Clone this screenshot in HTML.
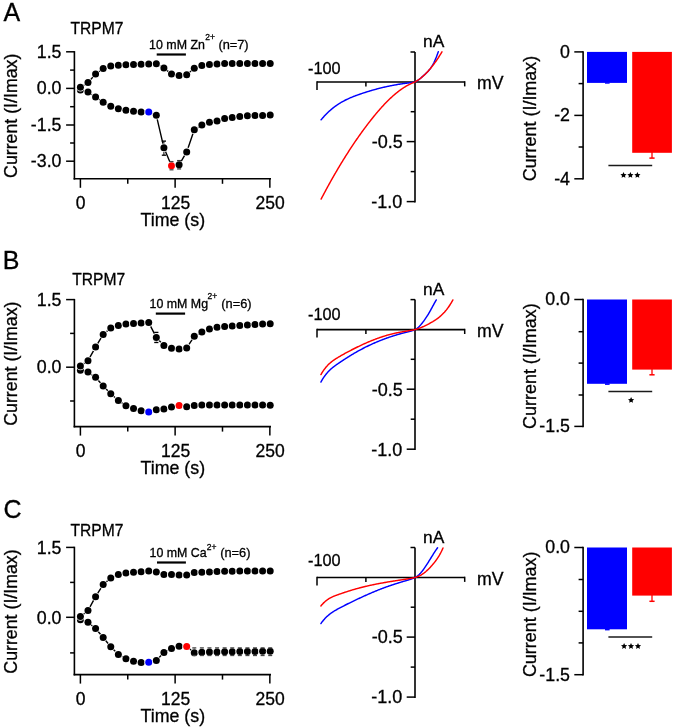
<!DOCTYPE html>
<html><head><meta charset="utf-8"><style>
html,body{margin:0;padding:0;background:#fff;}
svg{display:block;will-change:transform;}
text{font-family:"Liberation Sans",sans-serif;fill:#000;stroke:#000;stroke-width:0.3px;}
</style></head><body>
<svg width="675" height="728" viewBox="0 0 675 728">
<rect width="675" height="728" fill="#fff"/>
<text x="3.60" y="21.30" font-size="25" text-anchor="start">A</text>
<line x1="74.40" y1="51.10" x2="74.40" y2="179.60" stroke="#000" stroke-width="1.6"/>
<line x1="73.60" y1="178.80" x2="271.00" y2="178.80" stroke="#000" stroke-width="1.6"/>
<line x1="66.10" y1="51.80" x2="74.40" y2="51.80" stroke="#000" stroke-width="1.5"/>
<text x="61.50" y="57.80" font-size="17.8" text-anchor="end">1.5</text>
<line x1="70.10" y1="70.10" x2="74.40" y2="70.10" stroke="#000" stroke-width="1.5"/>
<line x1="66.10" y1="88.40" x2="74.40" y2="88.40" stroke="#000" stroke-width="1.5"/>
<text x="61.50" y="94.40" font-size="17.8" text-anchor="end">0.0</text>
<line x1="70.10" y1="106.70" x2="74.40" y2="106.70" stroke="#000" stroke-width="1.5"/>
<line x1="66.10" y1="125.00" x2="74.40" y2="125.00" stroke="#000" stroke-width="1.5"/>
<text x="61.50" y="131.00" font-size="17.8" text-anchor="end">-1.5</text>
<line x1="70.10" y1="143.00" x2="74.40" y2="143.00" stroke="#000" stroke-width="1.5"/>
<line x1="66.10" y1="161.20" x2="74.40" y2="161.20" stroke="#000" stroke-width="1.5"/>
<text x="61.50" y="167.20" font-size="17.8" text-anchor="end">-3.0</text>
<line x1="80.40" y1="178.80" x2="80.40" y2="187.80" stroke="#000" stroke-width="1.5"/>
<line x1="127.76" y1="178.80" x2="127.76" y2="183.80" stroke="#000" stroke-width="1.5"/>
<line x1="175.12" y1="178.80" x2="175.12" y2="187.80" stroke="#000" stroke-width="1.5"/>
<line x1="222.49" y1="178.80" x2="222.49" y2="183.80" stroke="#000" stroke-width="1.5"/>
<line x1="269.85" y1="178.80" x2="269.85" y2="187.80" stroke="#000" stroke-width="1.5"/>
<text x="80.50" y="209.10" font-size="17.5" text-anchor="middle">0</text>
<text x="175.70" y="209.10" font-size="17.5" text-anchor="middle">125</text>
<text x="270.10" y="209.10" font-size="17.5" text-anchor="middle">250</text>
<text x="172.80" y="226.00" font-size="17.8" text-anchor="middle">Time (s)</text>
<text transform="translate(16.60,115.80) rotate(-90)" font-size="17.75" text-anchor="middle">Current (I/Imax)</text>
<text transform="translate(70.40,34.00) scale(0.93,1)" font-size="16.8" text-anchor="start">TRPM7</text>
<text x="149.10" y="48.60" font-size="12.4" text-anchor="start">10 mM Zn</text>
<text x="205.30" y="40.10" font-size="8.5" text-anchor="start">2+</text>
<text x="218.40" y="48.60" font-size="12.8" text-anchor="start">(n=7)</text>
<line x1="156.70" y1="54.50" x2="185.90" y2="54.50" stroke="#000" stroke-width="2.2"/>
<polyline points="80.40,90.00 87.99,92.00 95.58,96.90 103.18,102.30 110.77,106.20 118.36,108.80 125.95,110.30 133.54,111.30 141.14,112.00 148.73,112.00 156.32,115.30 163.91,147.80 171.50,165.80 179.10,164.80 186.69,151.90 194.28,129.80 201.87,125.10 209.46,122.20 217.06,120.90 224.65,118.60 232.24,117.40 239.83,116.50 247.42,115.70 255.02,115.50 262.61,115.40 270.20,115.00" fill="none" stroke="#000" stroke-width="1.4" stroke-linejoin="round"/>
<line x1="163.91" y1="141.10" x2="163.91" y2="155.20" stroke="#000" stroke-width="1.0"/>
<line x1="171.50" y1="161.60" x2="171.50" y2="169.80" stroke="#444" stroke-width="1.0"/>
<line x1="179.10" y1="160.60" x2="179.10" y2="168.90" stroke="#333" stroke-width="1.0"/>
<circle cx="80.40" cy="90.00" r="4.30" fill="#fff"/>
<circle cx="80.40" cy="90.00" r="3.5" fill="#000"/>
<circle cx="87.99" cy="92.00" r="4.30" fill="#fff"/>
<circle cx="87.99" cy="92.00" r="3.5" fill="#000"/>
<circle cx="95.58" cy="96.90" r="4.30" fill="#fff"/>
<circle cx="95.58" cy="96.90" r="3.5" fill="#000"/>
<circle cx="103.18" cy="102.30" r="4.30" fill="#fff"/>
<circle cx="103.18" cy="102.30" r="3.5" fill="#000"/>
<circle cx="110.77" cy="106.20" r="4.30" fill="#fff"/>
<circle cx="110.77" cy="106.20" r="3.5" fill="#000"/>
<circle cx="118.36" cy="108.80" r="4.30" fill="#fff"/>
<circle cx="118.36" cy="108.80" r="3.5" fill="#000"/>
<circle cx="125.95" cy="110.30" r="4.30" fill="#fff"/>
<circle cx="125.95" cy="110.30" r="3.5" fill="#000"/>
<circle cx="133.54" cy="111.30" r="4.30" fill="#fff"/>
<circle cx="133.54" cy="111.30" r="3.5" fill="#000"/>
<circle cx="141.14" cy="112.00" r="4.30" fill="#fff"/>
<circle cx="141.14" cy="112.00" r="3.5" fill="#000"/>
<circle cx="148.73" cy="112.00" r="4.30" fill="#fff"/>
<circle cx="148.73" cy="112.00" r="3.5" fill="#0000ff"/>
<circle cx="156.32" cy="115.30" r="4.30" fill="#fff"/>
<circle cx="156.32" cy="115.30" r="3.5" fill="#000"/>
<circle cx="163.91" cy="147.80" r="4.30" fill="#fff"/>
<circle cx="163.91" cy="147.80" r="3.5" fill="#000"/>
<circle cx="171.50" cy="165.80" r="4.30" fill="#fff"/>
<circle cx="171.50" cy="165.80" r="3.5" fill="#ff0000"/>
<circle cx="179.10" cy="164.80" r="4.30" fill="#fff"/>
<circle cx="179.10" cy="164.80" r="3.5" fill="#000"/>
<circle cx="186.69" cy="151.90" r="4.30" fill="#fff"/>
<circle cx="186.69" cy="151.90" r="3.5" fill="#000"/>
<circle cx="194.28" cy="129.80" r="4.30" fill="#fff"/>
<circle cx="194.28" cy="129.80" r="3.5" fill="#000"/>
<circle cx="201.87" cy="125.10" r="4.30" fill="#fff"/>
<circle cx="201.87" cy="125.10" r="3.5" fill="#000"/>
<circle cx="209.46" cy="122.20" r="4.30" fill="#fff"/>
<circle cx="209.46" cy="122.20" r="3.5" fill="#000"/>
<circle cx="217.06" cy="120.90" r="4.30" fill="#fff"/>
<circle cx="217.06" cy="120.90" r="3.5" fill="#000"/>
<circle cx="224.65" cy="118.60" r="4.30" fill="#fff"/>
<circle cx="224.65" cy="118.60" r="3.5" fill="#000"/>
<circle cx="232.24" cy="117.40" r="4.30" fill="#fff"/>
<circle cx="232.24" cy="117.40" r="3.5" fill="#000"/>
<circle cx="239.83" cy="116.50" r="4.30" fill="#fff"/>
<circle cx="239.83" cy="116.50" r="3.5" fill="#000"/>
<circle cx="247.42" cy="115.70" r="4.30" fill="#fff"/>
<circle cx="247.42" cy="115.70" r="3.5" fill="#000"/>
<circle cx="255.02" cy="115.50" r="4.30" fill="#fff"/>
<circle cx="255.02" cy="115.50" r="3.5" fill="#000"/>
<circle cx="262.61" cy="115.40" r="4.30" fill="#fff"/>
<circle cx="262.61" cy="115.40" r="3.5" fill="#000"/>
<circle cx="270.20" cy="115.00" r="4.30" fill="#fff"/>
<circle cx="270.20" cy="115.00" r="3.5" fill="#000"/>
<line x1="161.81" y1="141.10" x2="166.01" y2="141.10" stroke="#000" stroke-width="1.3"/>
<line x1="161.81" y1="155.20" x2="166.01" y2="155.20" stroke="#000" stroke-width="1.3"/>
<line x1="169.50" y1="161.60" x2="173.50" y2="161.60" stroke="#444" stroke-width="1.3"/>
<line x1="169.50" y1="169.80" x2="173.50" y2="169.80" stroke="#444" stroke-width="1.3"/>
<line x1="177.10" y1="160.60" x2="181.10" y2="160.60" stroke="#333" stroke-width="1.3"/>
<line x1="177.10" y1="168.90" x2="181.10" y2="168.90" stroke="#333" stroke-width="1.3"/>
<polyline points="80.40,87.20 87.99,82.60 95.58,74.00 103.18,68.50 110.77,65.90 118.36,65.30 125.95,64.80 133.54,64.40 141.14,64.20 148.73,64.10 156.32,63.70 163.91,67.90 171.50,74.10 179.10,75.40 186.69,74.70 194.28,68.30 201.87,65.40 209.46,64.40 217.06,63.90 224.65,63.50 232.24,63.50 239.83,63.50 247.42,63.50 255.02,63.50 262.61,63.50 270.20,63.50" fill="none" stroke="#000" stroke-width="1.4" stroke-linejoin="round"/>
<circle cx="80.40" cy="87.20" r="4.30" fill="#fff"/>
<circle cx="80.40" cy="87.20" r="3.5" fill="#000"/>
<circle cx="87.99" cy="82.60" r="4.30" fill="#fff"/>
<circle cx="87.99" cy="82.60" r="3.5" fill="#000"/>
<circle cx="95.58" cy="74.00" r="4.30" fill="#fff"/>
<circle cx="95.58" cy="74.00" r="3.5" fill="#000"/>
<circle cx="103.18" cy="68.50" r="4.30" fill="#fff"/>
<circle cx="103.18" cy="68.50" r="3.5" fill="#000"/>
<circle cx="110.77" cy="65.90" r="4.30" fill="#fff"/>
<circle cx="110.77" cy="65.90" r="3.5" fill="#000"/>
<circle cx="118.36" cy="65.30" r="4.30" fill="#fff"/>
<circle cx="118.36" cy="65.30" r="3.5" fill="#000"/>
<circle cx="125.95" cy="64.80" r="4.30" fill="#fff"/>
<circle cx="125.95" cy="64.80" r="3.5" fill="#000"/>
<circle cx="133.54" cy="64.40" r="4.30" fill="#fff"/>
<circle cx="133.54" cy="64.40" r="3.5" fill="#000"/>
<circle cx="141.14" cy="64.20" r="4.30" fill="#fff"/>
<circle cx="141.14" cy="64.20" r="3.5" fill="#000"/>
<circle cx="148.73" cy="64.10" r="4.30" fill="#fff"/>
<circle cx="148.73" cy="64.10" r="3.5" fill="#000"/>
<circle cx="156.32" cy="63.70" r="4.30" fill="#fff"/>
<circle cx="156.32" cy="63.70" r="3.5" fill="#000"/>
<circle cx="163.91" cy="67.90" r="4.30" fill="#fff"/>
<circle cx="163.91" cy="67.90" r="3.5" fill="#000"/>
<circle cx="171.50" cy="74.10" r="4.30" fill="#fff"/>
<circle cx="171.50" cy="74.10" r="3.5" fill="#000"/>
<circle cx="179.10" cy="75.40" r="4.30" fill="#fff"/>
<circle cx="179.10" cy="75.40" r="3.5" fill="#000"/>
<circle cx="186.69" cy="74.70" r="4.30" fill="#fff"/>
<circle cx="186.69" cy="74.70" r="3.5" fill="#000"/>
<circle cx="194.28" cy="68.30" r="4.30" fill="#fff"/>
<circle cx="194.28" cy="68.30" r="3.5" fill="#000"/>
<circle cx="201.87" cy="65.40" r="4.30" fill="#fff"/>
<circle cx="201.87" cy="65.40" r="3.5" fill="#000"/>
<circle cx="209.46" cy="64.40" r="4.30" fill="#fff"/>
<circle cx="209.46" cy="64.40" r="3.5" fill="#000"/>
<circle cx="217.06" cy="63.90" r="4.30" fill="#fff"/>
<circle cx="217.06" cy="63.90" r="3.5" fill="#000"/>
<circle cx="224.65" cy="63.50" r="4.30" fill="#fff"/>
<circle cx="224.65" cy="63.50" r="3.5" fill="#000"/>
<circle cx="232.24" cy="63.50" r="4.30" fill="#fff"/>
<circle cx="232.24" cy="63.50" r="3.5" fill="#000"/>
<circle cx="239.83" cy="63.50" r="4.30" fill="#fff"/>
<circle cx="239.83" cy="63.50" r="3.5" fill="#000"/>
<circle cx="247.42" cy="63.50" r="4.30" fill="#fff"/>
<circle cx="247.42" cy="63.50" r="3.5" fill="#000"/>
<circle cx="255.02" cy="63.50" r="4.30" fill="#fff"/>
<circle cx="255.02" cy="63.50" r="3.5" fill="#000"/>
<circle cx="262.61" cy="63.50" r="4.30" fill="#fff"/>
<circle cx="262.61" cy="63.50" r="3.5" fill="#000"/>
<circle cx="270.20" cy="63.50" r="4.30" fill="#fff"/>
<circle cx="270.20" cy="63.50" r="3.5" fill="#000"/>
<line x1="317.00" y1="82.00" x2="464.70" y2="82.00" stroke="#000" stroke-width="1.6"/>
<line x1="317.00" y1="81.20" x2="317.00" y2="90.00" stroke="#000" stroke-width="1.5"/>
<line x1="365.90" y1="82.00" x2="365.90" y2="86.40" stroke="#000" stroke-width="1.5"/>
<line x1="464.70" y1="81.20" x2="464.70" y2="86.40" stroke="#000" stroke-width="1.5"/>
<line x1="415.00" y1="52.00" x2="415.00" y2="202.40" stroke="#000" stroke-width="1.6"/>
<line x1="410.50" y1="52.00" x2="415.00" y2="52.00" stroke="#000" stroke-width="1.5"/>
<line x1="410.70" y1="111.70" x2="415.00" y2="111.70" stroke="#000" stroke-width="1.5"/>
<line x1="406.70" y1="141.60" x2="415.00" y2="141.60" stroke="#000" stroke-width="1.5"/>
<line x1="410.70" y1="171.60" x2="415.00" y2="171.60" stroke="#000" stroke-width="1.5"/>
<line x1="406.70" y1="201.60" x2="415.00" y2="201.60" stroke="#000" stroke-width="1.5"/>
<text x="308.00" y="74.10" font-size="16.3" text-anchor="start">-100</text>
<text x="423.00" y="47.10" font-size="17.4" text-anchor="start">nA</text>
<text x="477.00" y="89.10" font-size="17.7" text-anchor="start">mV</text>
<text x="402.70" y="147.90" font-size="18" text-anchor="end">-0.5</text>
<text x="402.40" y="207.90" font-size="18" text-anchor="end">-1.0</text>
<path d="M321.10,119.82 L321.60,119.22 L322.10,118.63 L322.60,118.05 L323.10,117.48 L323.60,116.91 L324.10,116.36 L324.60,115.82 L325.10,115.29 L325.60,114.76 L326.10,114.25 L326.60,113.74 L327.10,113.25 L327.60,112.76 L328.10,112.28 L328.60,111.81 L329.10,111.34 L329.60,110.89 L330.10,110.44 L330.60,110.01 L331.10,109.58 L331.60,109.15 L332.10,108.74 L332.60,108.33 L333.10,107.93 L333.60,107.54 L334.10,107.16 L334.60,106.78 L335.10,106.41 L335.60,106.04 L336.10,105.69 L336.60,105.33 L337.10,104.99 L337.60,104.65 L338.10,104.32 L338.60,104.00 L339.10,103.68 L339.60,103.36 L340.10,103.05 L340.60,102.75 L341.10,102.46 L341.60,102.16 L342.10,101.88 L342.60,101.60 L343.10,101.32 L343.60,101.05 L344.10,100.79 L344.60,100.52 L345.10,100.27 L345.60,100.02 L346.10,99.77 L346.60,99.52 L347.10,99.29 L347.60,99.05 L348.10,98.82 L348.60,98.59 L349.10,98.37 L349.60,98.15 L350.10,97.93 L350.60,97.71 L351.10,97.50 L351.60,97.30 L352.10,97.09 L352.60,96.89 L353.10,96.69 L353.60,96.49 L354.10,96.30 L354.60,96.11 L355.10,95.92 L355.60,95.73 L356.10,95.54 L356.60,95.36 L357.10,95.18 L357.60,95.00 L358.10,94.82 L358.60,94.64 L359.10,94.46 L359.60,94.29 L360.10,94.11 L360.60,93.94 L361.10,93.77 L361.60,93.60 L362.10,93.43 L362.60,93.26 L363.10,93.09 L363.60,92.93 L364.10,92.77 L364.60,92.60 L365.10,92.44 L365.60,92.28 L366.10,92.12 L366.60,91.96 L367.10,91.81 L367.60,91.65 L368.10,91.50 L368.60,91.34 L369.10,91.19 L369.60,91.04 L370.10,90.89 L370.60,90.74 L371.10,90.59 L371.60,90.45 L372.10,90.30 L372.60,90.16 L373.10,90.02 L373.60,89.88 L374.10,89.74 L374.60,89.60 L375.10,89.46 L375.60,89.33 L376.10,89.19 L376.60,89.06 L377.10,88.92 L377.60,88.79 L378.10,88.66 L378.60,88.53 L379.10,88.40 L379.60,88.28 L380.10,88.15 L380.60,88.03 L381.10,87.91 L381.60,87.78 L382.10,87.66 L382.60,87.54 L383.10,87.42 L383.60,87.31 L384.10,87.19 L384.60,87.08 L385.10,86.96 L385.60,86.85 L386.10,86.74 L386.60,86.63 L387.10,86.52 L387.60,86.41 L388.10,86.30 L388.60,86.20 L389.10,86.09 L389.60,85.99 L390.10,85.89 L390.60,85.79 L391.10,85.69 L391.60,85.59 L392.10,85.49 L392.60,85.40 L393.10,85.30 L393.60,85.21 L394.10,85.11 L394.60,85.02 L395.10,84.93 L395.60,84.84 L396.10,84.75 L396.60,84.67 L397.10,84.58 L397.60,84.50 L398.10,84.41 L398.60,84.33 L399.10,84.25 L399.60,84.17 L400.10,84.09 L400.60,84.01 L401.10,83.93 L401.60,83.86 L402.10,83.78 L402.60,83.71 L403.10,83.64 L403.60,83.57 L404.10,83.50 L404.60,83.43 L405.10,83.36 L405.60,83.29 L406.10,83.23 L406.60,83.16 L407.10,83.10 L407.60,83.04 L408.10,82.98 L408.60,82.92 L409.10,82.86 L409.60,82.80 L410.10,82.75 L410.60,82.69 L411.10,82.64 L411.60,82.59 L412.10,82.53 L412.60,82.46 L413.10,82.38 L413.60,82.28 L414.10,82.15 L414.60,82.00 L415.10,81.82 L415.60,81.60 L416.10,81.35 L416.60,81.07 L417.10,80.77 L417.60,80.45 L418.10,80.10 L418.60,79.75 L419.10,79.38 L419.60,78.99 L420.10,78.60 L420.60,78.19 L421.10,77.78 L421.60,77.35 L422.10,76.92 L422.60,76.48 L423.10,76.03 L423.60,75.58 L424.10,75.12 L424.60,74.66 L425.10,74.20 L425.60,73.73 L426.10,73.25 L426.60,72.76 L427.10,72.27 L427.60,71.75 L428.10,71.22 L428.60,70.66 L429.10,70.08 L429.60,69.48 L430.10,68.84 L430.60,68.16 L431.10,67.45 L431.60,66.70 L432.10,65.91 L432.60,65.07 L433.10,64.18 L433.60,63.23 L434.10,62.24 L434.60,61.18 L435.10,60.06 L435.60,58.89 L436.10,57.67 L436.60,56.40 L437.10,55.08 L437.60,53.71 L438.10,52.31 L438.30,51.73" fill="none" stroke="#0000ff" stroke-width="1.45" stroke-linecap="round" stroke-linejoin="round"/>
<path d="M321.10,199.09 L321.60,198.14 L322.10,197.18 L322.60,196.23 L323.10,195.29 L323.60,194.35 L324.10,193.41 L324.60,192.47 L325.10,191.54 L325.60,190.61 L326.10,189.68 L326.60,188.76 L327.10,187.84 L327.60,186.93 L328.10,186.02 L328.60,185.11 L329.10,184.20 L329.60,183.30 L330.10,182.40 L330.60,181.51 L331.10,180.62 L331.60,179.73 L332.10,178.84 L332.60,177.96 L333.10,177.08 L333.60,176.21 L334.10,175.34 L334.60,174.47 L335.10,173.60 L335.60,172.74 L336.10,171.88 L336.60,171.03 L337.10,170.18 L337.60,169.33 L338.10,168.48 L338.60,167.64 L339.10,166.80 L339.60,165.97 L340.10,165.14 L340.60,164.31 L341.10,163.48 L341.60,162.66 L342.10,161.84 L342.60,161.03 L343.10,160.22 L343.60,159.41 L344.10,158.60 L344.60,157.80 L345.10,157.00 L345.60,156.20 L346.10,155.41 L346.60,154.62 L347.10,153.83 L347.60,153.05 L348.10,152.27 L348.60,151.50 L349.10,150.72 L349.60,149.95 L350.10,149.19 L350.60,148.42 L351.10,147.66 L351.60,146.90 L352.10,146.15 L352.60,145.40 L353.10,144.65 L353.60,143.91 L354.10,143.16 L354.60,142.43 L355.10,141.69 L355.60,140.96 L356.10,140.23 L356.60,139.50 L357.10,138.78 L357.60,138.06 L358.10,137.35 L358.60,136.63 L359.10,135.92 L359.60,135.22 L360.10,134.51 L360.60,133.81 L361.10,133.12 L361.60,132.42 L362.10,131.73 L362.60,131.04 L363.10,130.36 L363.60,129.67 L364.10,129.00 L364.60,128.32 L365.10,127.65 L365.60,126.98 L366.10,126.31 L366.60,125.65 L367.10,124.99 L367.60,124.33 L368.10,123.68 L368.60,123.02 L369.10,122.38 L369.60,121.73 L370.10,121.09 L370.60,120.45 L371.10,119.82 L371.60,119.19 L372.10,118.56 L372.60,117.93 L373.10,117.31 L373.60,116.69 L374.10,116.08 L374.60,115.47 L375.10,114.86 L375.60,114.26 L376.10,113.66 L376.60,113.07 L377.10,112.47 L377.60,111.89 L378.10,111.30 L378.60,110.72 L379.10,110.15 L379.60,109.58 L380.10,109.01 L380.60,108.45 L381.10,107.89 L381.60,107.33 L382.10,106.78 L382.60,106.23 L383.10,105.69 L383.60,105.15 L384.10,104.62 L384.60,104.09 L385.10,103.57 L385.60,103.05 L386.10,102.53 L386.60,102.02 L387.10,101.52 L387.60,101.02 L388.10,100.52 L388.60,100.03 L389.10,99.54 L389.60,99.06 L390.10,98.59 L390.60,98.11 L391.10,97.65 L391.60,97.19 L392.10,96.73 L392.60,96.28 L393.10,95.83 L393.60,95.39 L394.10,94.96 L394.60,94.53 L395.10,94.10 L395.60,93.68 L396.10,93.27 L396.60,92.86 L397.10,92.46 L397.60,92.06 L398.10,91.67 L398.60,91.28 L399.10,90.90 L399.60,90.53 L400.10,90.16 L400.60,89.80 L401.10,89.44 L401.60,89.09 L402.10,88.75 L402.60,88.41 L403.10,88.07 L403.60,87.75 L404.10,87.43 L404.60,87.11 L405.10,86.81 L405.60,86.50 L406.10,86.21 L406.60,85.92 L407.10,85.64 L407.60,85.36 L408.10,85.09 L408.60,84.83 L409.10,84.57 L409.60,84.32 L410.10,84.08 L410.60,83.84 L411.10,83.61 L411.60,83.38 L412.10,83.16 L412.60,82.94 L413.10,82.72 L413.60,82.50 L414.10,82.27 L414.60,82.03 L415.10,81.79 L415.60,81.53 L416.10,81.26 L416.60,80.97 L417.10,80.68 L417.60,80.37 L418.10,80.04 L418.60,79.70 L419.10,79.35 L419.60,78.98 L420.10,78.61 L420.60,78.22 L421.10,77.82 L421.60,77.40 L422.10,76.98 L422.60,76.55 L423.10,76.11 L423.60,75.66 L424.10,75.20 L424.60,74.73 L425.10,74.25 L425.60,73.76 L426.10,73.26 L426.60,72.75 L427.10,72.23 L427.60,71.70 L428.10,71.15 L428.60,70.60 L429.10,70.03 L429.60,69.46 L430.10,68.87 L430.60,68.27 L431.10,67.67 L431.60,67.05 L432.10,66.42 L432.60,65.78 L433.10,65.13 L433.60,64.47 L434.10,63.79 L434.60,63.11 L435.10,62.42 L435.60,61.71 L436.10,61.00 L436.60,60.28 L437.10,59.54 L437.60,58.80 L438.10,58.04 L438.60,57.28 L439.10,56.50 L439.60,55.72 L440.10,54.92 L440.60,54.11 L441.10,53.30 L441.60,52.47 L442.00,51.81" fill="none" stroke="#ff0000" stroke-width="1.45" stroke-linecap="round" stroke-linejoin="round"/>
<line x1="583.10" y1="51.20" x2="583.10" y2="179.60" stroke="#000" stroke-width="1.6"/>
<line x1="574.30" y1="51.90" x2="583.10" y2="51.90" stroke="#000" stroke-width="1.5"/>
<text x="570.00" y="57.80" font-size="17.8" text-anchor="end">0</text>
<line x1="578.60" y1="83.60" x2="583.10" y2="83.60" stroke="#000" stroke-width="1.5"/>
<line x1="574.30" y1="115.40" x2="583.10" y2="115.40" stroke="#000" stroke-width="1.5"/>
<text x="570.00" y="121.30" font-size="17.8" text-anchor="end">-2</text>
<line x1="578.60" y1="147.00" x2="583.10" y2="147.00" stroke="#000" stroke-width="1.5"/>
<line x1="574.30" y1="178.80" x2="583.10" y2="178.80" stroke="#000" stroke-width="1.5"/>
<text x="570.00" y="184.70" font-size="17.8" text-anchor="end">-4</text>
<text transform="translate(535.60,118.55) rotate(-90)" font-size="17.95" text-anchor="middle">Current (I/Imax)</text>
<rect x="587.00" y="51.90" width="40.00" height="31.00" fill="#0000ff"/>
<rect x="632.20" y="51.90" width="39.70" height="100.90" fill="#ff0000"/>
<rect x="605.00" y="82.40" width="4.60" height="1.30" fill="#0000ff"/>
<line x1="652.00" y1="151.80" x2="652.00" y2="158.10" stroke="#ff0000" stroke-width="1.3"/>
<line x1="649.40" y1="158.10" x2="654.60" y2="158.10" stroke="#ff0000" stroke-width="1.5"/>
<line x1="608.40" y1="165.60" x2="652.20" y2="165.60" stroke="#1a1a1a" stroke-width="1.5"/>
<polygon points="623.50,171.95 624.41,173.95 626.59,174.20 624.97,175.68 625.41,177.83 623.50,176.75 621.59,177.83 622.03,175.68 620.41,174.20 622.59,173.95" fill="#000"/>
<polygon points="630.40,171.95 631.31,173.95 633.49,174.20 631.87,175.68 632.31,177.83 630.40,176.75 628.49,177.83 628.93,175.68 627.31,174.20 629.49,173.95" fill="#000"/>
<polygon points="637.40,171.95 638.31,173.95 640.49,174.20 638.87,175.68 639.31,177.83 637.40,176.75 635.49,177.83 635.93,175.68 634.31,174.20 636.49,173.95" fill="#000"/>
<text x="2.80" y="268.60" font-size="25" text-anchor="start">B</text>
<line x1="74.40" y1="298.90" x2="74.40" y2="427.40" stroke="#000" stroke-width="1.6"/>
<line x1="73.60" y1="426.60" x2="271.00" y2="426.60" stroke="#000" stroke-width="1.6"/>
<line x1="66.10" y1="299.60" x2="74.40" y2="299.60" stroke="#000" stroke-width="1.5"/>
<text x="61.50" y="305.60" font-size="17.8" text-anchor="end">1.5</text>
<line x1="70.10" y1="333.40" x2="74.40" y2="333.40" stroke="#000" stroke-width="1.5"/>
<line x1="66.10" y1="367.20" x2="74.40" y2="367.20" stroke="#000" stroke-width="1.5"/>
<text x="61.50" y="373.20" font-size="17.8" text-anchor="end">0.0</text>
<line x1="70.10" y1="401.00" x2="74.40" y2="401.00" stroke="#000" stroke-width="1.5"/>
<line x1="80.40" y1="426.60" x2="80.40" y2="435.60" stroke="#000" stroke-width="1.5"/>
<line x1="127.76" y1="426.60" x2="127.76" y2="431.60" stroke="#000" stroke-width="1.5"/>
<line x1="175.12" y1="426.60" x2="175.12" y2="435.60" stroke="#000" stroke-width="1.5"/>
<line x1="222.49" y1="426.60" x2="222.49" y2="431.60" stroke="#000" stroke-width="1.5"/>
<line x1="269.85" y1="426.60" x2="269.85" y2="435.60" stroke="#000" stroke-width="1.5"/>
<text x="80.50" y="456.90" font-size="17.5" text-anchor="middle">0</text>
<text x="175.70" y="456.90" font-size="17.5" text-anchor="middle">125</text>
<text x="270.10" y="456.90" font-size="17.5" text-anchor="middle">250</text>
<text x="172.80" y="473.80" font-size="17.8" text-anchor="middle">Time (s)</text>
<text transform="translate(16.60,363.60) rotate(-90)" font-size="17.75" text-anchor="middle">Current (I/Imax)</text>
<text transform="translate(72.30,285.00) scale(0.93,1)" font-size="16.8" text-anchor="start">TRPM7</text>
<text x="149.50" y="307.60" font-size="12.4" text-anchor="start">10 mM Mg</text>
<text x="207.60" y="299.10" font-size="8.5" text-anchor="start">2+</text>
<text x="221.30" y="307.60" font-size="12.8" text-anchor="start">(n=6)</text>
<line x1="155.80" y1="313.60" x2="185.10" y2="313.60" stroke="#000" stroke-width="2.2"/>
<polyline points="80.40,370.20 87.99,372.10 95.58,377.30 103.18,386.00 110.77,393.70 118.36,400.40 125.95,405.70 133.54,408.60 141.14,410.70 148.73,412.00 156.32,409.80 163.91,408.90 171.50,407.10 179.10,405.40 186.69,406.80 194.28,405.50 201.87,405.00 209.46,405.00 217.06,405.00 224.65,405.00 232.24,405.00 239.83,405.00 247.42,405.00 255.02,405.00 262.61,405.00 270.20,405.20" fill="none" stroke="#000" stroke-width="1.4" stroke-linejoin="round"/>
<circle cx="80.40" cy="370.20" r="4.30" fill="#fff"/>
<circle cx="80.40" cy="370.20" r="3.5" fill="#000"/>
<circle cx="87.99" cy="372.10" r="4.30" fill="#fff"/>
<circle cx="87.99" cy="372.10" r="3.5" fill="#000"/>
<circle cx="95.58" cy="377.30" r="4.30" fill="#fff"/>
<circle cx="95.58" cy="377.30" r="3.5" fill="#000"/>
<circle cx="103.18" cy="386.00" r="4.30" fill="#fff"/>
<circle cx="103.18" cy="386.00" r="3.5" fill="#000"/>
<circle cx="110.77" cy="393.70" r="4.30" fill="#fff"/>
<circle cx="110.77" cy="393.70" r="3.5" fill="#000"/>
<circle cx="118.36" cy="400.40" r="4.30" fill="#fff"/>
<circle cx="118.36" cy="400.40" r="3.5" fill="#000"/>
<circle cx="125.95" cy="405.70" r="4.30" fill="#fff"/>
<circle cx="125.95" cy="405.70" r="3.5" fill="#000"/>
<circle cx="133.54" cy="408.60" r="4.30" fill="#fff"/>
<circle cx="133.54" cy="408.60" r="3.5" fill="#000"/>
<circle cx="141.14" cy="410.70" r="4.30" fill="#fff"/>
<circle cx="141.14" cy="410.70" r="3.5" fill="#000"/>
<circle cx="148.73" cy="412.00" r="4.30" fill="#fff"/>
<circle cx="148.73" cy="412.00" r="3.5" fill="#0000ff"/>
<circle cx="156.32" cy="409.80" r="4.30" fill="#fff"/>
<circle cx="156.32" cy="409.80" r="3.5" fill="#000"/>
<circle cx="163.91" cy="408.90" r="4.30" fill="#fff"/>
<circle cx="163.91" cy="408.90" r="3.5" fill="#000"/>
<circle cx="171.50" cy="407.10" r="4.30" fill="#fff"/>
<circle cx="171.50" cy="407.10" r="3.5" fill="#000"/>
<circle cx="179.10" cy="405.40" r="4.30" fill="#fff"/>
<circle cx="179.10" cy="405.40" r="3.5" fill="#ff0000"/>
<circle cx="186.69" cy="406.80" r="4.30" fill="#fff"/>
<circle cx="186.69" cy="406.80" r="3.5" fill="#000"/>
<circle cx="194.28" cy="405.50" r="4.30" fill="#fff"/>
<circle cx="194.28" cy="405.50" r="3.5" fill="#000"/>
<circle cx="201.87" cy="405.00" r="4.30" fill="#fff"/>
<circle cx="201.87" cy="405.00" r="3.5" fill="#000"/>
<circle cx="209.46" cy="405.00" r="4.30" fill="#fff"/>
<circle cx="209.46" cy="405.00" r="3.5" fill="#000"/>
<circle cx="217.06" cy="405.00" r="4.30" fill="#fff"/>
<circle cx="217.06" cy="405.00" r="3.5" fill="#000"/>
<circle cx="224.65" cy="405.00" r="4.30" fill="#fff"/>
<circle cx="224.65" cy="405.00" r="3.5" fill="#000"/>
<circle cx="232.24" cy="405.00" r="4.30" fill="#fff"/>
<circle cx="232.24" cy="405.00" r="3.5" fill="#000"/>
<circle cx="239.83" cy="405.00" r="4.30" fill="#fff"/>
<circle cx="239.83" cy="405.00" r="3.5" fill="#000"/>
<circle cx="247.42" cy="405.00" r="4.30" fill="#fff"/>
<circle cx="247.42" cy="405.00" r="3.5" fill="#000"/>
<circle cx="255.02" cy="405.00" r="4.30" fill="#fff"/>
<circle cx="255.02" cy="405.00" r="3.5" fill="#000"/>
<circle cx="262.61" cy="405.00" r="4.30" fill="#fff"/>
<circle cx="262.61" cy="405.00" r="3.5" fill="#000"/>
<circle cx="270.20" cy="405.20" r="4.30" fill="#fff"/>
<circle cx="270.20" cy="405.20" r="3.5" fill="#000"/>
<polyline points="80.40,365.90 87.99,360.70 95.58,347.10 103.18,334.40 110.77,328.10 118.36,325.50 125.95,324.00 133.54,323.40 141.14,323.00 148.73,322.60 156.32,337.40 163.91,345.40 171.50,348.20 179.10,349.10 186.69,347.90 194.28,336.30 201.87,332.10 209.46,328.90 217.06,327.30 224.65,326.40 232.24,325.90 239.83,325.40 247.42,325.00 255.02,324.50 262.61,324.10 270.20,323.80" fill="none" stroke="#000" stroke-width="1.4" stroke-linejoin="round"/>
<line x1="156.32" y1="332.40" x2="156.32" y2="342.50" stroke="#000" stroke-width="1.0"/>
<circle cx="80.40" cy="365.90" r="4.30" fill="#fff"/>
<circle cx="80.40" cy="365.90" r="3.5" fill="#000"/>
<circle cx="87.99" cy="360.70" r="4.30" fill="#fff"/>
<circle cx="87.99" cy="360.70" r="3.5" fill="#000"/>
<circle cx="95.58" cy="347.10" r="4.30" fill="#fff"/>
<circle cx="95.58" cy="347.10" r="3.5" fill="#000"/>
<circle cx="103.18" cy="334.40" r="4.30" fill="#fff"/>
<circle cx="103.18" cy="334.40" r="3.5" fill="#000"/>
<circle cx="110.77" cy="328.10" r="4.30" fill="#fff"/>
<circle cx="110.77" cy="328.10" r="3.5" fill="#000"/>
<circle cx="118.36" cy="325.50" r="4.30" fill="#fff"/>
<circle cx="118.36" cy="325.50" r="3.5" fill="#000"/>
<circle cx="125.95" cy="324.00" r="4.30" fill="#fff"/>
<circle cx="125.95" cy="324.00" r="3.5" fill="#000"/>
<circle cx="133.54" cy="323.40" r="4.30" fill="#fff"/>
<circle cx="133.54" cy="323.40" r="3.5" fill="#000"/>
<circle cx="141.14" cy="323.00" r="4.30" fill="#fff"/>
<circle cx="141.14" cy="323.00" r="3.5" fill="#000"/>
<circle cx="148.73" cy="322.60" r="4.30" fill="#fff"/>
<circle cx="148.73" cy="322.60" r="3.5" fill="#000"/>
<circle cx="156.32" cy="337.40" r="4.30" fill="#fff"/>
<circle cx="156.32" cy="337.40" r="3.5" fill="#000"/>
<circle cx="163.91" cy="345.40" r="4.30" fill="#fff"/>
<circle cx="163.91" cy="345.40" r="3.5" fill="#000"/>
<circle cx="171.50" cy="348.20" r="4.30" fill="#fff"/>
<circle cx="171.50" cy="348.20" r="3.5" fill="#000"/>
<circle cx="179.10" cy="349.10" r="4.30" fill="#fff"/>
<circle cx="179.10" cy="349.10" r="3.5" fill="#000"/>
<circle cx="186.69" cy="347.90" r="4.30" fill="#fff"/>
<circle cx="186.69" cy="347.90" r="3.5" fill="#000"/>
<circle cx="194.28" cy="336.30" r="4.30" fill="#fff"/>
<circle cx="194.28" cy="336.30" r="3.5" fill="#000"/>
<circle cx="201.87" cy="332.10" r="4.30" fill="#fff"/>
<circle cx="201.87" cy="332.10" r="3.5" fill="#000"/>
<circle cx="209.46" cy="328.90" r="4.30" fill="#fff"/>
<circle cx="209.46" cy="328.90" r="3.5" fill="#000"/>
<circle cx="217.06" cy="327.30" r="4.30" fill="#fff"/>
<circle cx="217.06" cy="327.30" r="3.5" fill="#000"/>
<circle cx="224.65" cy="326.40" r="4.30" fill="#fff"/>
<circle cx="224.65" cy="326.40" r="3.5" fill="#000"/>
<circle cx="232.24" cy="325.90" r="4.30" fill="#fff"/>
<circle cx="232.24" cy="325.90" r="3.5" fill="#000"/>
<circle cx="239.83" cy="325.40" r="4.30" fill="#fff"/>
<circle cx="239.83" cy="325.40" r="3.5" fill="#000"/>
<circle cx="247.42" cy="325.00" r="4.30" fill="#fff"/>
<circle cx="247.42" cy="325.00" r="3.5" fill="#000"/>
<circle cx="255.02" cy="324.50" r="4.30" fill="#fff"/>
<circle cx="255.02" cy="324.50" r="3.5" fill="#000"/>
<circle cx="262.61" cy="324.10" r="4.30" fill="#fff"/>
<circle cx="262.61" cy="324.10" r="3.5" fill="#000"/>
<circle cx="270.20" cy="323.80" r="4.30" fill="#fff"/>
<circle cx="270.20" cy="323.80" r="3.5" fill="#000"/>
<line x1="154.22" y1="332.40" x2="158.42" y2="332.40" stroke="#000" stroke-width="1.3"/>
<line x1="154.22" y1="342.50" x2="158.42" y2="342.50" stroke="#000" stroke-width="1.3"/>
<line x1="317.00" y1="329.60" x2="464.70" y2="329.60" stroke="#000" stroke-width="1.6"/>
<line x1="317.00" y1="328.80" x2="317.00" y2="337.60" stroke="#000" stroke-width="1.5"/>
<line x1="365.90" y1="329.60" x2="365.90" y2="334.00" stroke="#000" stroke-width="1.5"/>
<line x1="464.70" y1="328.80" x2="464.70" y2="334.00" stroke="#000" stroke-width="1.5"/>
<line x1="415.00" y1="299.60" x2="415.00" y2="450.00" stroke="#000" stroke-width="1.6"/>
<line x1="410.50" y1="299.60" x2="415.00" y2="299.60" stroke="#000" stroke-width="1.5"/>
<line x1="410.70" y1="359.30" x2="415.00" y2="359.30" stroke="#000" stroke-width="1.5"/>
<line x1="406.70" y1="389.20" x2="415.00" y2="389.20" stroke="#000" stroke-width="1.5"/>
<line x1="410.70" y1="419.20" x2="415.00" y2="419.20" stroke="#000" stroke-width="1.5"/>
<line x1="406.70" y1="449.20" x2="415.00" y2="449.20" stroke="#000" stroke-width="1.5"/>
<text x="308.00" y="319.70" font-size="16.3" text-anchor="start">-100</text>
<text x="423.00" y="294.70" font-size="17.4" text-anchor="start">nA</text>
<text x="477.00" y="336.70" font-size="17.7" text-anchor="start">mV</text>
<text x="402.70" y="395.50" font-size="18" text-anchor="end">-0.5</text>
<text x="402.40" y="455.50" font-size="18" text-anchor="end">-1.0</text>
<path d="M320.90,382.07 L321.40,381.18 L321.90,380.31 L322.40,379.48 L322.90,378.68 L323.40,377.90 L323.90,377.16 L324.40,376.43 L324.90,375.74 L325.40,375.07 L325.90,374.42 L326.40,373.80 L326.90,373.20 L327.40,372.61 L327.90,372.05 L328.40,371.51 L328.90,370.99 L329.40,370.49 L329.90,370.00 L330.40,369.52 L330.90,369.07 L331.40,368.62 L331.90,368.19 L332.40,367.78 L332.90,367.37 L333.40,366.97 L333.90,366.59 L334.40,366.21 L334.90,365.84 L335.40,365.48 L335.90,365.12 L336.40,364.77 L336.90,364.42 L337.40,364.08 L337.90,363.73 L338.40,363.39 L338.90,363.05 L339.40,362.72 L339.90,362.38 L340.40,362.04 L340.90,361.71 L341.40,361.37 L341.90,361.04 L342.40,360.71 L342.90,360.38 L343.40,360.05 L343.90,359.72 L344.40,359.40 L344.90,359.07 L345.40,358.75 L345.90,358.42 L346.40,358.10 L346.90,357.78 L347.40,357.47 L347.90,357.15 L348.40,356.83 L348.90,356.52 L349.40,356.21 L349.90,355.90 L350.40,355.59 L350.90,355.28 L351.40,354.98 L351.90,354.68 L352.40,354.37 L352.90,354.08 L353.40,353.78 L353.90,353.48 L354.40,353.19 L354.90,352.90 L355.40,352.61 L355.90,352.32 L356.40,352.03 L356.90,351.75 L357.40,351.47 L357.90,351.19 L358.40,350.91 L358.90,350.64 L359.40,350.36 L359.90,350.09 L360.40,349.82 L360.90,349.55 L361.40,349.28 L361.90,349.02 L362.40,348.76 L362.90,348.50 L363.40,348.24 L363.90,347.98 L364.40,347.73 L364.90,347.47 L365.40,347.22 L365.90,346.97 L366.40,346.72 L366.90,346.48 L367.40,346.23 L367.90,345.99 L368.40,345.75 L368.90,345.51 L369.40,345.27 L369.90,345.04 L370.40,344.81 L370.90,344.57 L371.40,344.34 L371.90,344.12 L372.40,343.89 L372.90,343.66 L373.40,343.44 L373.90,343.22 L374.40,343.00 L374.90,342.78 L375.40,342.57 L375.90,342.35 L376.40,342.14 L376.90,341.93 L377.40,341.72 L377.90,341.51 L378.40,341.31 L378.90,341.10 L379.40,340.90 L379.90,340.70 L380.40,340.50 L380.90,340.30 L381.40,340.10 L381.90,339.91 L382.40,339.72 L382.90,339.53 L383.40,339.34 L383.90,339.15 L384.40,338.96 L384.90,338.78 L385.40,338.59 L385.90,338.41 L386.40,338.23 L386.90,338.05 L387.40,337.88 L387.90,337.70 L388.40,337.53 L388.90,337.35 L389.40,337.18 L389.90,337.01 L390.40,336.85 L390.90,336.68 L391.40,336.51 L391.90,336.35 L392.40,336.19 L392.90,336.03 L393.40,335.87 L393.90,335.71 L394.40,335.55 L394.90,335.40 L395.40,335.25 L395.90,335.09 L396.40,334.94 L396.90,334.79 L397.40,334.65 L397.90,334.50 L398.40,334.35 L398.90,334.21 L399.40,334.07 L399.90,333.93 L400.40,333.79 L400.90,333.65 L401.40,333.51 L401.90,333.38 L402.40,333.24 L402.90,333.11 L403.40,332.98 L403.90,332.85 L404.40,332.72 L404.90,332.59 L405.40,332.46 L405.90,332.34 L406.40,332.21 L406.90,332.09 L407.40,331.97 L407.90,331.85 L408.40,331.73 L408.90,331.61 L409.40,331.49 L409.90,331.37 L410.40,331.24 L410.90,331.11 L411.40,330.97 L411.90,330.82 L412.40,330.66 L412.90,330.48 L413.40,330.29 L413.90,330.09 L414.40,329.87 L414.90,329.62 L415.40,329.36 L415.90,329.07 L416.40,328.76 L416.90,328.42 L417.40,328.05 L417.90,327.65 L418.40,327.22 L418.90,326.76 L419.40,326.27 L419.90,325.75 L420.40,325.20 L420.90,324.64 L421.40,324.04 L421.90,323.43 L422.40,322.80 L422.90,322.16 L423.40,321.50 L423.90,320.82 L424.40,320.13 L424.90,319.42 L425.40,318.70 L425.90,317.96 L426.40,317.21 L426.90,316.44 L427.40,315.65 L427.90,314.84 L428.40,314.02 L428.90,313.17 L429.40,312.31 L429.90,311.43 L430.40,310.54 L430.90,309.63 L431.40,308.72 L431.90,307.80 L432.40,306.88 L432.90,305.96 L433.40,305.04 L433.90,304.13 L434.40,303.22 L434.90,302.33 L435.40,301.45 L435.90,300.59 L436.30,299.92" fill="none" stroke="#0000ff" stroke-width="1.45" stroke-linecap="round" stroke-linejoin="round"/>
<path d="M320.90,374.61 L321.40,373.76 L321.90,372.94 L322.40,372.14 L322.90,371.37 L323.40,370.64 L323.90,369.93 L324.40,369.24 L324.90,368.58 L325.40,367.94 L325.90,367.33 L326.40,366.74 L326.90,366.17 L327.40,365.63 L327.90,365.10 L328.40,364.59 L328.90,364.10 L329.40,363.63 L329.90,363.18 L330.40,362.74 L330.90,362.32 L331.40,361.91 L331.90,361.51 L332.40,361.13 L332.90,360.76 L333.40,360.40 L333.90,360.04 L334.40,359.70 L334.90,359.37 L335.40,359.04 L335.90,358.73 L336.40,358.41 L336.90,358.10 L337.40,357.80 L337.90,357.50 L338.40,357.20 L338.90,356.90 L339.40,356.61 L339.90,356.32 L340.40,356.03 L340.90,355.74 L341.40,355.45 L341.90,355.16 L342.40,354.88 L342.90,354.59 L343.40,354.31 L343.90,354.03 L344.40,353.76 L344.90,353.48 L345.40,353.20 L345.90,352.93 L346.40,352.66 L346.90,352.39 L347.40,352.12 L347.90,351.85 L348.40,351.58 L348.90,351.32 L349.40,351.06 L349.90,350.79 L350.40,350.53 L350.90,350.27 L351.40,350.01 L351.90,349.76 L352.40,349.50 L352.90,349.25 L353.40,348.99 L353.90,348.74 L354.40,348.49 L354.90,348.24 L355.40,347.99 L355.90,347.74 L356.40,347.50 L356.90,347.25 L357.40,347.01 L357.90,346.77 L358.40,346.53 L358.90,346.29 L359.40,346.05 L359.90,345.81 L360.40,345.57 L360.90,345.34 L361.40,345.11 L361.90,344.87 L362.40,344.64 L362.90,344.41 L363.40,344.19 L363.90,343.96 L364.40,343.73 L364.90,343.51 L365.40,343.29 L365.90,343.07 L366.40,342.85 L366.90,342.63 L367.40,342.42 L367.90,342.20 L368.40,341.99 L368.90,341.78 L369.40,341.57 L369.90,341.36 L370.40,341.15 L370.90,340.95 L371.40,340.74 L371.90,340.54 L372.40,340.34 L372.90,340.14 L373.40,339.95 L373.90,339.75 L374.40,339.56 L374.90,339.37 L375.40,339.18 L375.90,338.99 L376.40,338.80 L376.90,338.62 L377.40,338.44 L377.90,338.25 L378.40,338.08 L378.90,337.90 L379.40,337.72 L379.90,337.55 L380.40,337.38 L380.90,337.21 L381.40,337.04 L381.90,336.87 L382.40,336.71 L382.90,336.55 L383.40,336.39 L383.90,336.23 L384.40,336.07 L384.90,335.92 L385.40,335.76 L385.90,335.61 L386.40,335.46 L386.90,335.32 L387.40,335.17 L387.90,335.03 L388.40,334.89 L388.90,334.75 L389.40,334.62 L389.90,334.48 L390.40,334.35 L390.90,334.22 L391.40,334.10 L391.90,333.97 L392.40,333.85 L392.90,333.73 L393.40,333.61 L393.90,333.49 L394.40,333.38 L394.90,333.26 L395.40,333.15 L395.90,333.05 L396.40,332.94 L396.90,332.83 L397.40,332.73 L397.90,332.63 L398.40,332.53 L398.90,332.43 L399.40,332.34 L399.90,332.24 L400.40,332.15 L400.90,332.05 L401.40,331.96 L401.90,331.87 L402.40,331.78 L402.90,331.70 L403.40,331.61 L403.90,331.52 L404.40,331.44 L404.90,331.36 L405.40,331.27 L405.90,331.19 L406.40,331.11 L406.90,331.03 L407.40,330.95 L407.90,330.87 L408.40,330.79 L408.90,330.71 L409.40,330.64 L409.90,330.56 L410.40,330.47 L410.90,330.39 L411.40,330.31 L411.90,330.22 L412.40,330.12 L412.90,330.03 L413.40,329.93 L413.90,329.82 L414.40,329.70 L414.90,329.58 L415.40,329.46 L415.90,329.32 L416.40,329.18 L416.90,329.03 L417.40,328.88 L417.90,328.71 L418.40,328.55 L418.90,328.37 L419.40,328.19 L419.90,328.00 L420.40,327.81 L420.90,327.61 L421.40,327.41 L421.90,327.20 L422.40,326.98 L422.90,326.76 L423.40,326.54 L423.90,326.31 L424.40,326.08 L424.90,325.84 L425.40,325.59 L425.90,325.35 L426.40,325.10 L426.90,324.84 L427.40,324.59 L427.90,324.32 L428.40,324.06 L428.90,323.79 L429.40,323.52 L429.90,323.25 L430.40,322.97 L430.90,322.69 L431.40,322.41 L431.90,322.12 L432.40,321.83 L432.90,321.54 L433.40,321.23 L433.90,320.93 L434.40,320.61 L434.90,320.29 L435.40,319.96 L435.90,319.63 L436.40,319.28 L436.90,318.93 L437.40,318.56 L437.90,318.19 L438.40,317.81 L438.90,317.41 L439.40,317.01 L439.90,316.59 L440.40,316.16 L440.90,315.72 L441.40,315.26 L441.90,314.79 L442.40,314.31 L442.90,313.81 L443.40,313.29 L443.90,312.76 L444.40,312.22 L444.90,311.65 L445.40,311.07 L445.90,310.47 L446.40,309.86 L446.90,309.22 L447.40,308.57 L447.90,307.89 L448.40,307.20 L448.90,306.48 L449.40,305.75 L449.90,304.99 L450.40,304.21 L450.90,303.40 L451.40,302.58 L451.90,301.73 L452.40,300.85 L452.90,299.95" fill="none" stroke="#ff0000" stroke-width="1.45" stroke-linecap="round" stroke-linejoin="round"/>
<line x1="583.10" y1="298.80" x2="583.10" y2="427.20" stroke="#000" stroke-width="1.6"/>
<line x1="574.30" y1="299.50" x2="583.10" y2="299.50" stroke="#000" stroke-width="1.5"/>
<text x="570.00" y="305.40" font-size="17.8" text-anchor="end">0.0</text>
<line x1="578.60" y1="331.70" x2="583.10" y2="331.70" stroke="#000" stroke-width="1.5"/>
<line x1="578.60" y1="363.10" x2="583.10" y2="363.10" stroke="#000" stroke-width="1.5"/>
<line x1="578.60" y1="395.00" x2="583.10" y2="395.00" stroke="#000" stroke-width="1.5"/>
<line x1="574.30" y1="426.40" x2="583.10" y2="426.40" stroke="#000" stroke-width="1.5"/>
<text x="570.00" y="432.30" font-size="17.8" text-anchor="end">-1.5</text>
<text transform="translate(535.60,366.15) rotate(-90)" font-size="17.95" text-anchor="middle">Current (I/Imax)</text>
<rect x="587.00" y="299.50" width="40.00" height="84.30" fill="#0000ff"/>
<rect x="632.20" y="299.50" width="39.70" height="70.10" fill="#ff0000"/>
<rect x="605.00" y="383.30" width="4.60" height="1.60" fill="#0000ff"/>
<line x1="652.00" y1="368.60" x2="652.00" y2="374.80" stroke="#ff0000" stroke-width="1.3"/>
<line x1="649.40" y1="374.80" x2="654.60" y2="374.80" stroke="#ff0000" stroke-width="1.5"/>
<line x1="608.40" y1="391.50" x2="652.20" y2="391.50" stroke="#1a1a1a" stroke-width="1.5"/>
<polygon points="631.10,396.95 632.01,398.95 634.19,399.20 632.57,400.68 633.01,402.83 631.10,401.75 629.19,402.83 629.63,400.68 628.01,399.20 630.19,398.95" fill="#000"/>
<text x="3.40" y="517.60" font-size="25" text-anchor="start">C</text>
<line x1="74.40" y1="546.70" x2="74.40" y2="675.40" stroke="#000" stroke-width="1.6"/>
<line x1="73.60" y1="674.60" x2="271.00" y2="674.60" stroke="#000" stroke-width="1.6"/>
<line x1="66.10" y1="547.40" x2="74.40" y2="547.40" stroke="#000" stroke-width="1.5"/>
<text x="61.50" y="553.90" font-size="17.8" text-anchor="end">1.5</text>
<line x1="70.10" y1="582.40" x2="74.40" y2="582.40" stroke="#000" stroke-width="1.5"/>
<line x1="66.10" y1="617.30" x2="74.40" y2="617.30" stroke="#000" stroke-width="1.5"/>
<text x="61.50" y="623.80" font-size="17.8" text-anchor="end">0.0</text>
<line x1="70.10" y1="652.90" x2="74.40" y2="652.90" stroke="#000" stroke-width="1.5"/>
<line x1="80.40" y1="674.60" x2="80.40" y2="683.60" stroke="#000" stroke-width="1.5"/>
<line x1="127.76" y1="674.60" x2="127.76" y2="679.60" stroke="#000" stroke-width="1.5"/>
<line x1="175.12" y1="674.60" x2="175.12" y2="683.60" stroke="#000" stroke-width="1.5"/>
<line x1="222.49" y1="674.60" x2="222.49" y2="679.60" stroke="#000" stroke-width="1.5"/>
<line x1="269.85" y1="674.60" x2="269.85" y2="683.60" stroke="#000" stroke-width="1.5"/>
<text x="80.50" y="704.90" font-size="17.5" text-anchor="middle">0</text>
<text x="175.70" y="704.90" font-size="17.5" text-anchor="middle">125</text>
<text x="270.10" y="704.90" font-size="17.5" text-anchor="middle">250</text>
<text x="172.80" y="721.80" font-size="17.8" text-anchor="middle">Time (s)</text>
<text transform="translate(16.60,611.50) rotate(-90)" font-size="17.75" text-anchor="middle">Current (I/Imax)</text>
<text transform="translate(70.40,536.30) scale(0.93,1)" font-size="16.8" text-anchor="start">TRPM7</text>
<text x="149.50" y="556.90" font-size="12.4" text-anchor="start">10 mM Ca</text>
<text x="206.70" y="550.10" font-size="8.5" text-anchor="start">2+</text>
<text x="220.20" y="556.90" font-size="12.8" text-anchor="start">(n=6)</text>
<line x1="157.00" y1="562.50" x2="185.90" y2="562.50" stroke="#000" stroke-width="2.2"/>
<polyline points="80.40,619.80 87.99,622.30 95.58,628.50 103.18,637.50 110.77,646.70 118.36,654.40 125.95,658.80 133.54,661.20 141.14,662.40 148.73,662.20 156.32,660.60 163.91,652.50 171.50,648.60 179.10,646.20 186.69,646.40 194.28,652.80 201.87,652.30 209.46,651.90 217.06,651.90 224.65,651.70 232.24,651.70 239.83,651.60 247.42,651.50 255.02,651.40 262.61,651.30 270.20,651.20" fill="none" stroke="#000" stroke-width="1.4" stroke-linejoin="round"/>
<line x1="194.28" y1="647.90" x2="194.28" y2="655.50" stroke="#444" stroke-width="1.0"/>
<line x1="201.87" y1="647.90" x2="201.87" y2="655.50" stroke="#444" stroke-width="1.0"/>
<line x1="209.46" y1="647.90" x2="209.46" y2="655.50" stroke="#444" stroke-width="1.0"/>
<line x1="217.06" y1="647.90" x2="217.06" y2="655.50" stroke="#444" stroke-width="1.0"/>
<line x1="224.65" y1="647.90" x2="224.65" y2="655.50" stroke="#444" stroke-width="1.0"/>
<line x1="232.24" y1="647.90" x2="232.24" y2="655.50" stroke="#444" stroke-width="1.0"/>
<line x1="239.83" y1="647.90" x2="239.83" y2="655.50" stroke="#444" stroke-width="1.0"/>
<line x1="247.42" y1="647.90" x2="247.42" y2="655.50" stroke="#444" stroke-width="1.0"/>
<line x1="255.02" y1="647.90" x2="255.02" y2="655.50" stroke="#444" stroke-width="1.0"/>
<line x1="262.61" y1="647.90" x2="262.61" y2="655.50" stroke="#444" stroke-width="1.0"/>
<line x1="270.20" y1="647.90" x2="270.20" y2="655.50" stroke="#444" stroke-width="1.0"/>
<circle cx="80.40" cy="619.80" r="4.30" fill="#fff"/>
<circle cx="80.40" cy="619.80" r="3.5" fill="#000"/>
<circle cx="87.99" cy="622.30" r="4.30" fill="#fff"/>
<circle cx="87.99" cy="622.30" r="3.5" fill="#000"/>
<circle cx="95.58" cy="628.50" r="4.30" fill="#fff"/>
<circle cx="95.58" cy="628.50" r="3.5" fill="#000"/>
<circle cx="103.18" cy="637.50" r="4.30" fill="#fff"/>
<circle cx="103.18" cy="637.50" r="3.5" fill="#000"/>
<circle cx="110.77" cy="646.70" r="4.30" fill="#fff"/>
<circle cx="110.77" cy="646.70" r="3.5" fill="#000"/>
<circle cx="118.36" cy="654.40" r="4.30" fill="#fff"/>
<circle cx="118.36" cy="654.40" r="3.5" fill="#000"/>
<circle cx="125.95" cy="658.80" r="4.30" fill="#fff"/>
<circle cx="125.95" cy="658.80" r="3.5" fill="#000"/>
<circle cx="133.54" cy="661.20" r="4.30" fill="#fff"/>
<circle cx="133.54" cy="661.20" r="3.5" fill="#000"/>
<circle cx="141.14" cy="662.40" r="4.30" fill="#fff"/>
<circle cx="141.14" cy="662.40" r="3.5" fill="#000"/>
<circle cx="148.73" cy="662.20" r="4.30" fill="#fff"/>
<circle cx="148.73" cy="662.20" r="3.5" fill="#0000ff"/>
<circle cx="156.32" cy="660.60" r="4.30" fill="#fff"/>
<circle cx="156.32" cy="660.60" r="3.5" fill="#000"/>
<circle cx="163.91" cy="652.50" r="4.30" fill="#fff"/>
<circle cx="163.91" cy="652.50" r="3.5" fill="#000"/>
<circle cx="171.50" cy="648.60" r="4.30" fill="#fff"/>
<circle cx="171.50" cy="648.60" r="3.5" fill="#000"/>
<circle cx="179.10" cy="646.20" r="4.30" fill="#fff"/>
<circle cx="179.10" cy="646.20" r="3.5" fill="#000"/>
<circle cx="186.69" cy="646.40" r="4.30" fill="#fff"/>
<circle cx="186.69" cy="646.40" r="3.5" fill="#ff0000"/>
<circle cx="194.28" cy="652.80" r="4.30" fill="#fff"/>
<circle cx="194.28" cy="652.80" r="3.5" fill="#000"/>
<circle cx="201.87" cy="652.30" r="4.30" fill="#fff"/>
<circle cx="201.87" cy="652.30" r="3.5" fill="#000"/>
<circle cx="209.46" cy="651.90" r="4.30" fill="#fff"/>
<circle cx="209.46" cy="651.90" r="3.5" fill="#000"/>
<circle cx="217.06" cy="651.90" r="4.30" fill="#fff"/>
<circle cx="217.06" cy="651.90" r="3.5" fill="#000"/>
<circle cx="224.65" cy="651.70" r="4.30" fill="#fff"/>
<circle cx="224.65" cy="651.70" r="3.5" fill="#000"/>
<circle cx="232.24" cy="651.70" r="4.30" fill="#fff"/>
<circle cx="232.24" cy="651.70" r="3.5" fill="#000"/>
<circle cx="239.83" cy="651.60" r="4.30" fill="#fff"/>
<circle cx="239.83" cy="651.60" r="3.5" fill="#000"/>
<circle cx="247.42" cy="651.50" r="4.30" fill="#fff"/>
<circle cx="247.42" cy="651.50" r="3.5" fill="#000"/>
<circle cx="255.02" cy="651.40" r="4.30" fill="#fff"/>
<circle cx="255.02" cy="651.40" r="3.5" fill="#000"/>
<circle cx="262.61" cy="651.30" r="4.30" fill="#fff"/>
<circle cx="262.61" cy="651.30" r="3.5" fill="#000"/>
<circle cx="270.20" cy="651.20" r="4.30" fill="#fff"/>
<circle cx="270.20" cy="651.20" r="3.5" fill="#000"/>
<line x1="192.28" y1="647.90" x2="196.28" y2="647.90" stroke="#444" stroke-width="1.3"/>
<line x1="192.28" y1="655.50" x2="196.28" y2="655.50" stroke="#444" stroke-width="1.3"/>
<line x1="199.87" y1="647.90" x2="203.87" y2="647.90" stroke="#444" stroke-width="1.3"/>
<line x1="199.87" y1="655.50" x2="203.87" y2="655.50" stroke="#444" stroke-width="1.3"/>
<line x1="207.46" y1="647.90" x2="211.46" y2="647.90" stroke="#444" stroke-width="1.3"/>
<line x1="207.46" y1="655.50" x2="211.46" y2="655.50" stroke="#444" stroke-width="1.3"/>
<line x1="215.06" y1="647.90" x2="219.06" y2="647.90" stroke="#444" stroke-width="1.3"/>
<line x1="215.06" y1="655.50" x2="219.06" y2="655.50" stroke="#444" stroke-width="1.3"/>
<line x1="222.65" y1="647.90" x2="226.65" y2="647.90" stroke="#444" stroke-width="1.3"/>
<line x1="222.65" y1="655.50" x2="226.65" y2="655.50" stroke="#444" stroke-width="1.3"/>
<line x1="230.24" y1="647.90" x2="234.24" y2="647.90" stroke="#444" stroke-width="1.3"/>
<line x1="230.24" y1="655.50" x2="234.24" y2="655.50" stroke="#444" stroke-width="1.3"/>
<line x1="237.83" y1="647.90" x2="241.83" y2="647.90" stroke="#444" stroke-width="1.3"/>
<line x1="237.83" y1="655.50" x2="241.83" y2="655.50" stroke="#444" stroke-width="1.3"/>
<line x1="245.42" y1="647.90" x2="249.42" y2="647.90" stroke="#444" stroke-width="1.3"/>
<line x1="245.42" y1="655.50" x2="249.42" y2="655.50" stroke="#444" stroke-width="1.3"/>
<line x1="253.02" y1="647.90" x2="257.02" y2="647.90" stroke="#444" stroke-width="1.3"/>
<line x1="253.02" y1="655.50" x2="257.02" y2="655.50" stroke="#444" stroke-width="1.3"/>
<line x1="260.61" y1="647.90" x2="264.61" y2="647.90" stroke="#444" stroke-width="1.3"/>
<line x1="260.61" y1="655.50" x2="264.61" y2="655.50" stroke="#444" stroke-width="1.3"/>
<line x1="268.20" y1="647.90" x2="272.20" y2="647.90" stroke="#444" stroke-width="1.3"/>
<line x1="268.20" y1="655.50" x2="272.20" y2="655.50" stroke="#444" stroke-width="1.3"/>
<polyline points="80.40,616.50 87.99,610.60 95.58,596.70 103.18,584.60 110.77,577.90 118.36,574.60 125.95,573.10 133.54,572.30 141.14,571.70 148.73,571.10 156.32,572.10 163.91,574.60 171.50,574.60 179.10,574.90 186.69,575.10 194.28,572.50 201.87,572.20 209.46,572.00 217.06,571.60 224.65,571.30 232.24,571.20 239.83,571.10 247.42,571.00 255.02,571.00 262.61,571.00 270.20,570.90" fill="none" stroke="#000" stroke-width="1.4" stroke-linejoin="round"/>
<circle cx="80.40" cy="616.50" r="4.30" fill="#fff"/>
<circle cx="80.40" cy="616.50" r="3.5" fill="#000"/>
<circle cx="87.99" cy="610.60" r="4.30" fill="#fff"/>
<circle cx="87.99" cy="610.60" r="3.5" fill="#000"/>
<circle cx="95.58" cy="596.70" r="4.30" fill="#fff"/>
<circle cx="95.58" cy="596.70" r="3.5" fill="#000"/>
<circle cx="103.18" cy="584.60" r="4.30" fill="#fff"/>
<circle cx="103.18" cy="584.60" r="3.5" fill="#000"/>
<circle cx="110.77" cy="577.90" r="4.30" fill="#fff"/>
<circle cx="110.77" cy="577.90" r="3.5" fill="#000"/>
<circle cx="118.36" cy="574.60" r="4.30" fill="#fff"/>
<circle cx="118.36" cy="574.60" r="3.5" fill="#000"/>
<circle cx="125.95" cy="573.10" r="4.30" fill="#fff"/>
<circle cx="125.95" cy="573.10" r="3.5" fill="#000"/>
<circle cx="133.54" cy="572.30" r="4.30" fill="#fff"/>
<circle cx="133.54" cy="572.30" r="3.5" fill="#000"/>
<circle cx="141.14" cy="571.70" r="4.30" fill="#fff"/>
<circle cx="141.14" cy="571.70" r="3.5" fill="#000"/>
<circle cx="148.73" cy="571.10" r="4.30" fill="#fff"/>
<circle cx="148.73" cy="571.10" r="3.5" fill="#000"/>
<circle cx="156.32" cy="572.10" r="4.30" fill="#fff"/>
<circle cx="156.32" cy="572.10" r="3.5" fill="#000"/>
<circle cx="163.91" cy="574.60" r="4.30" fill="#fff"/>
<circle cx="163.91" cy="574.60" r="3.5" fill="#000"/>
<circle cx="171.50" cy="574.60" r="4.30" fill="#fff"/>
<circle cx="171.50" cy="574.60" r="3.5" fill="#000"/>
<circle cx="179.10" cy="574.90" r="4.30" fill="#fff"/>
<circle cx="179.10" cy="574.90" r="3.5" fill="#000"/>
<circle cx="186.69" cy="575.10" r="4.30" fill="#fff"/>
<circle cx="186.69" cy="575.10" r="3.5" fill="#000"/>
<circle cx="194.28" cy="572.50" r="4.30" fill="#fff"/>
<circle cx="194.28" cy="572.50" r="3.5" fill="#000"/>
<circle cx="201.87" cy="572.20" r="4.30" fill="#fff"/>
<circle cx="201.87" cy="572.20" r="3.5" fill="#000"/>
<circle cx="209.46" cy="572.00" r="4.30" fill="#fff"/>
<circle cx="209.46" cy="572.00" r="3.5" fill="#000"/>
<circle cx="217.06" cy="571.60" r="4.30" fill="#fff"/>
<circle cx="217.06" cy="571.60" r="3.5" fill="#000"/>
<circle cx="224.65" cy="571.30" r="4.30" fill="#fff"/>
<circle cx="224.65" cy="571.30" r="3.5" fill="#000"/>
<circle cx="232.24" cy="571.20" r="4.30" fill="#fff"/>
<circle cx="232.24" cy="571.20" r="3.5" fill="#000"/>
<circle cx="239.83" cy="571.10" r="4.30" fill="#fff"/>
<circle cx="239.83" cy="571.10" r="3.5" fill="#000"/>
<circle cx="247.42" cy="571.00" r="4.30" fill="#fff"/>
<circle cx="247.42" cy="571.00" r="3.5" fill="#000"/>
<circle cx="255.02" cy="571.00" r="4.30" fill="#fff"/>
<circle cx="255.02" cy="571.00" r="3.5" fill="#000"/>
<circle cx="262.61" cy="571.00" r="4.30" fill="#fff"/>
<circle cx="262.61" cy="571.00" r="3.5" fill="#000"/>
<circle cx="270.20" cy="570.90" r="4.30" fill="#fff"/>
<circle cx="270.20" cy="570.90" r="3.5" fill="#000"/>
<line x1="317.00" y1="577.50" x2="464.70" y2="577.50" stroke="#000" stroke-width="1.6"/>
<line x1="317.00" y1="576.70" x2="317.00" y2="585.50" stroke="#000" stroke-width="1.5"/>
<line x1="365.90" y1="577.50" x2="365.90" y2="581.90" stroke="#000" stroke-width="1.5"/>
<line x1="464.70" y1="576.70" x2="464.70" y2="581.90" stroke="#000" stroke-width="1.5"/>
<line x1="415.00" y1="547.50" x2="415.00" y2="697.90" stroke="#000" stroke-width="1.6"/>
<line x1="410.50" y1="547.50" x2="415.00" y2="547.50" stroke="#000" stroke-width="1.5"/>
<line x1="410.70" y1="607.20" x2="415.00" y2="607.20" stroke="#000" stroke-width="1.5"/>
<line x1="406.70" y1="637.10" x2="415.00" y2="637.10" stroke="#000" stroke-width="1.5"/>
<line x1="410.70" y1="667.10" x2="415.00" y2="667.10" stroke="#000" stroke-width="1.5"/>
<line x1="406.70" y1="697.10" x2="415.00" y2="697.10" stroke="#000" stroke-width="1.5"/>
<text x="308.00" y="566.40" font-size="16.3" text-anchor="start">-100</text>
<text x="423.00" y="542.60" font-size="17.4" text-anchor="start">nA</text>
<text x="477.00" y="584.60" font-size="17.7" text-anchor="start">mV</text>
<text x="402.70" y="643.40" font-size="18" text-anchor="end">-0.5</text>
<text x="402.40" y="703.40" font-size="18" text-anchor="end">-1.0</text>
<path d="M320.90,623.56 L321.40,622.86 L321.90,622.19 L322.40,621.54 L322.90,620.92 L323.40,620.31 L323.90,619.72 L324.40,619.16 L324.90,618.61 L325.40,618.08 L325.90,617.57 L326.40,617.07 L326.90,616.59 L327.40,616.13 L327.90,615.68 L328.40,615.25 L328.90,614.83 L329.40,614.42 L329.90,614.03 L330.40,613.65 L330.90,613.28 L331.40,612.92 L331.90,612.57 L332.40,612.23 L332.90,611.90 L333.40,611.58 L333.90,611.26 L334.40,610.95 L334.90,610.65 L335.40,610.36 L335.90,610.07 L336.40,609.78 L336.90,609.50 L337.40,609.23 L337.90,608.95 L338.40,608.68 L338.90,608.41 L339.40,608.14 L339.90,607.87 L340.40,607.60 L340.90,607.34 L341.40,607.08 L341.90,606.81 L342.40,606.55 L342.90,606.29 L343.40,606.04 L343.90,605.78 L344.40,605.52 L344.90,605.27 L345.40,605.02 L345.90,604.77 L346.40,604.52 L346.90,604.27 L347.40,604.02 L347.90,603.77 L348.40,603.52 L348.90,603.28 L349.40,603.03 L349.90,602.79 L350.40,602.54 L350.90,602.30 L351.40,602.06 L351.90,601.82 L352.40,601.58 L352.90,601.34 L353.40,601.10 L353.90,600.86 L354.40,600.62 L354.90,600.38 L355.40,600.14 L355.90,599.90 L356.40,599.67 L356.90,599.43 L357.40,599.19 L357.90,598.96 L358.40,598.72 L358.90,598.49 L359.40,598.25 L359.90,598.02 L360.40,597.79 L360.90,597.56 L361.40,597.33 L361.90,597.09 L362.40,596.86 L362.90,596.64 L363.40,596.41 L363.90,596.18 L364.40,595.95 L364.90,595.73 L365.40,595.50 L365.90,595.28 L366.40,595.05 L366.90,594.83 L367.40,594.61 L367.90,594.38 L368.40,594.16 L368.90,593.94 L369.40,593.72 L369.90,593.51 L370.40,593.29 L370.90,593.07 L371.40,592.86 L371.90,592.64 L372.40,592.43 L372.90,592.22 L373.40,592.01 L373.90,591.80 L374.40,591.59 L374.90,591.38 L375.40,591.17 L375.90,590.97 L376.40,590.76 L376.90,590.56 L377.40,590.36 L377.90,590.15 L378.40,589.95 L378.90,589.75 L379.40,589.56 L379.90,589.36 L380.40,589.16 L380.90,588.97 L381.40,588.78 L381.90,588.59 L382.40,588.40 L382.90,588.21 L383.40,588.02 L383.90,587.83 L384.40,587.65 L384.90,587.46 L385.40,587.28 L385.90,587.10 L386.40,586.92 L386.90,586.74 L387.40,586.57 L387.90,586.39 L388.40,586.22 L388.90,586.04 L389.40,585.87 L389.90,585.70 L390.40,585.53 L390.90,585.36 L391.40,585.19 L391.90,585.03 L392.40,584.86 L392.90,584.70 L393.40,584.53 L393.90,584.37 L394.40,584.21 L394.90,584.05 L395.40,583.89 L395.90,583.73 L396.40,583.57 L396.90,583.41 L397.40,583.26 L397.90,583.10 L398.40,582.94 L398.90,582.79 L399.40,582.63 L399.90,582.48 L400.40,582.33 L400.90,582.18 L401.40,582.02 L401.90,581.87 L402.40,581.72 L402.90,581.57 L403.40,581.42 L403.90,581.27 L404.40,581.12 L404.90,580.97 L405.40,580.82 L405.90,580.68 L406.40,580.53 L406.90,580.38 L407.40,580.23 L407.90,580.08 L408.40,579.94 L408.90,579.79 L409.40,579.64 L409.90,579.49 L410.40,579.33 L410.90,579.17 L411.40,579.00 L411.90,578.82 L412.40,578.64 L412.90,578.44 L413.40,578.23 L413.90,578.00 L414.40,577.76 L414.90,577.51 L415.40,577.23 L415.90,576.94 L416.40,576.63 L416.90,576.29 L417.40,575.93 L417.90,575.55 L418.40,575.14 L418.90,574.70 L419.40,574.23 L419.90,573.73 L420.40,573.21 L420.90,572.66 L421.40,572.08 L421.90,571.48 L422.40,570.85 L422.90,570.21 L423.40,569.54 L423.90,568.85 L424.40,568.15 L424.90,567.43 L425.40,566.69 L425.90,565.94 L426.40,565.18 L426.90,564.41 L427.40,563.63 L427.90,562.84 L428.40,562.04 L428.90,561.24 L429.40,560.43 L429.90,559.62 L430.40,558.81 L430.90,558.00 L431.40,557.19 L431.90,556.38 L432.40,555.57 L432.90,554.77 L433.40,553.98 L433.90,553.20 L434.40,552.42 L434.90,551.65 L435.40,550.90 L435.90,550.16 L436.40,549.43 L436.90,548.72 L437.40,548.02 L437.60,547.75" fill="none" stroke="#0000ff" stroke-width="1.45" stroke-linecap="round" stroke-linejoin="round"/>
<path d="M320.90,605.94 L321.40,605.33 L321.90,604.74 L322.40,604.18 L322.90,603.64 L323.40,603.13 L323.90,602.63 L324.40,602.16 L324.90,601.70 L325.40,601.27 L325.90,600.86 L326.40,600.46 L326.90,600.08 L327.40,599.72 L327.90,599.37 L328.40,599.04 L328.90,598.72 L329.40,598.42 L329.90,598.13 L330.40,597.85 L330.90,597.59 L331.40,597.33 L331.90,597.09 L332.40,596.85 L332.90,596.63 L333.40,596.41 L333.90,596.20 L334.40,596.00 L334.90,595.80 L335.40,595.61 L335.90,595.42 L336.40,595.24 L336.90,595.06 L337.40,594.88 L337.90,594.71 L338.40,594.53 L338.90,594.36 L339.40,594.18 L339.90,594.01 L340.40,593.84 L340.90,593.66 L341.40,593.49 L341.90,593.32 L342.40,593.15 L342.90,592.98 L343.40,592.81 L343.90,592.65 L344.40,592.48 L344.90,592.31 L345.40,592.15 L345.90,591.98 L346.40,591.82 L346.90,591.66 L347.40,591.49 L347.90,591.33 L348.40,591.17 L348.90,591.01 L349.40,590.86 L349.90,590.70 L350.40,590.54 L350.90,590.39 L351.40,590.23 L351.90,590.08 L352.40,589.93 L352.90,589.78 L353.40,589.63 L353.90,589.49 L354.40,589.34 L354.90,589.20 L355.40,589.05 L355.90,588.91 L356.40,588.77 L356.90,588.63 L357.40,588.49 L357.90,588.36 L358.40,588.22 L358.90,588.09 L359.40,587.95 L359.90,587.82 L360.40,587.69 L360.90,587.56 L361.40,587.43 L361.90,587.30 L362.40,587.18 L362.90,587.05 L363.40,586.93 L363.90,586.81 L364.40,586.68 L364.90,586.56 L365.40,586.44 L365.90,586.33 L366.40,586.21 L366.90,586.09 L367.40,585.98 L367.90,585.86 L368.40,585.75 L368.90,585.64 L369.40,585.53 L369.90,585.41 L370.40,585.31 L370.90,585.20 L371.40,585.09 L371.90,584.98 L372.40,584.88 L372.90,584.77 L373.40,584.67 L373.90,584.56 L374.40,584.46 L374.90,584.36 L375.40,584.26 L375.90,584.16 L376.40,584.06 L376.90,583.96 L377.40,583.87 L377.90,583.77 L378.40,583.67 L378.90,583.58 L379.40,583.48 L379.90,583.39 L380.40,583.30 L380.90,583.21 L381.40,583.11 L381.90,583.02 L382.40,582.93 L382.90,582.84 L383.40,582.76 L383.90,582.67 L384.40,582.58 L384.90,582.49 L385.40,582.41 L385.90,582.32 L386.40,582.24 L386.90,582.15 L387.40,582.07 L387.90,581.98 L388.40,581.90 L388.90,581.82 L389.40,581.74 L389.90,581.65 L390.40,581.57 L390.90,581.49 L391.40,581.41 L391.90,581.33 L392.40,581.25 L392.90,581.17 L393.40,581.09 L393.90,581.01 L394.40,580.93 L394.90,580.86 L395.40,580.78 L395.90,580.70 L396.40,580.62 L396.90,580.54 L397.40,580.47 L397.90,580.39 L398.40,580.31 L398.90,580.23 L399.40,580.16 L399.90,580.08 L400.40,580.00 L400.90,579.93 L401.40,579.85 L401.90,579.77 L402.40,579.70 L402.90,579.62 L403.40,579.54 L403.90,579.47 L404.40,579.39 L404.90,579.31 L405.40,579.23 L405.90,579.16 L406.40,579.08 L406.90,579.00 L407.40,578.92 L407.90,578.84 L408.40,578.76 L408.90,578.68 L409.40,578.60 L409.90,578.52 L410.40,578.44 L410.90,578.35 L411.40,578.26 L411.90,578.17 L412.40,578.07 L412.90,577.96 L413.40,577.85 L413.90,577.73 L414.40,577.61 L414.90,577.48 L415.40,577.34 L415.90,577.19 L416.40,577.03 L416.90,576.86 L417.40,576.68 L417.90,576.49 L418.40,576.28 L418.90,576.06 L419.40,575.83 L419.90,575.59 L420.40,575.33 L420.90,575.05 L421.40,574.76 L421.90,574.46 L422.40,574.14 L422.90,573.80 L423.40,573.45 L423.90,573.09 L424.40,572.71 L424.90,572.32 L425.40,571.91 L425.90,571.49 L426.40,571.05 L426.90,570.61 L427.40,570.15 L427.90,569.68 L428.40,569.19 L428.90,568.69 L429.40,568.18 L429.90,567.66 L430.40,567.13 L430.90,566.58 L431.40,566.03 L431.90,565.46 L432.40,564.88 L432.90,564.30 L433.40,563.70 L433.90,563.09 L434.40,562.47 L434.90,561.84 L435.40,561.20 L435.90,560.54 L436.40,559.86 L436.90,559.16 L437.40,558.43 L437.90,557.68 L438.40,556.90 L438.90,556.09 L439.40,555.25 L439.90,554.37 L440.40,553.46 L440.90,552.50 L441.40,551.50 L441.90,550.46 L442.40,549.37 L442.90,548.23 L443.00,547.99" fill="none" stroke="#ff0000" stroke-width="1.45" stroke-linecap="round" stroke-linejoin="round"/>
<line x1="583.10" y1="546.80" x2="583.10" y2="675.50" stroke="#000" stroke-width="1.6"/>
<line x1="574.30" y1="547.50" x2="583.10" y2="547.50" stroke="#000" stroke-width="1.5"/>
<text x="570.00" y="553.40" font-size="17.8" text-anchor="end">0.0</text>
<line x1="578.60" y1="579.50" x2="583.10" y2="579.50" stroke="#000" stroke-width="1.5"/>
<line x1="578.60" y1="611.30" x2="583.10" y2="611.30" stroke="#000" stroke-width="1.5"/>
<line x1="578.60" y1="642.90" x2="583.10" y2="642.90" stroke="#000" stroke-width="1.5"/>
<line x1="574.30" y1="674.70" x2="583.10" y2="674.70" stroke="#000" stroke-width="1.5"/>
<text x="570.00" y="680.60" font-size="17.8" text-anchor="end">-1.5</text>
<text transform="translate(535.60,614.30) rotate(-90)" font-size="17.95" text-anchor="middle">Current (I/Imax)</text>
<rect x="587.00" y="547.50" width="40.00" height="81.80" fill="#0000ff"/>
<rect x="632.20" y="547.50" width="39.70" height="48.10" fill="#ff0000"/>
<rect x="605.00" y="628.80" width="4.60" height="1.60" fill="#0000ff"/>
<line x1="652.00" y1="594.60" x2="652.00" y2="601.30" stroke="#ff0000" stroke-width="1.3"/>
<line x1="649.40" y1="601.30" x2="654.60" y2="601.30" stroke="#ff0000" stroke-width="1.5"/>
<line x1="608.40" y1="637.10" x2="652.20" y2="637.10" stroke="#1a1a1a" stroke-width="1.5"/>
<polygon points="624.10,643.05 625.01,645.05 627.19,645.30 625.57,646.78 626.01,648.93 624.10,647.85 622.19,648.93 622.63,646.78 621.01,645.30 623.19,645.05" fill="#000"/>
<polygon points="631.00,643.05 631.91,645.05 634.09,645.30 632.47,646.78 632.91,648.93 631.00,647.85 629.09,648.93 629.53,646.78 627.91,645.30 630.09,645.05" fill="#000"/>
<polygon points="638.00,643.05 638.91,645.05 641.09,645.30 639.47,646.78 639.91,648.93 638.00,647.85 636.09,648.93 636.53,646.78 634.91,645.30 637.09,645.05" fill="#000"/>
</svg>
</body></html>
